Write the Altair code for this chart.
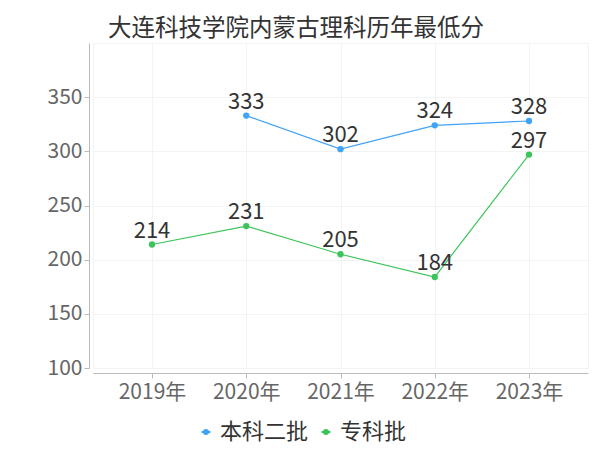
import altair as alt
import pandas as pd

years = ["2019年", "2020年", "2021年", "2022年", "2023年"]
series_names = ["本科二批", "专科批"]
benke = [None, 333, 302, 324, 328]
zhuanke = [214, 231, 205, 184, 297]
colors = ["#3fa3f7", "#3cc45a"]

rows = []
for name, vals in zip(series_names, [benke, zhuanke]):
    for y, v in zip(years, vals):
        if v is not None:
            rows.append({"year": y, "score": v, "series": name})
df = pd.DataFrame(rows)

FONT = "Noto Sans CJK SC"

x = alt.X("year:O", sort=years, title=None,
          scale=alt.Scale(padding=0.626),
          axis=alt.Axis(labelAngle=0, labelFontSize=21, labelColor="#666666",
                        labelFont=FONT, domainColor="#bbbbbb", tickColor="#bbbbbb",
                        tickSize=5, labelPadding=3, offset=5,
                        grid=True, gridColor="#f3f3f3"))
y = alt.Y("score:Q", title=None,
          scale=alt.Scale(domain=[100, 400], nice=False),
          axis=alt.Axis(values=[100, 150, 200, 250, 300, 350], labelFontSize=21,
                        labelColor="#666666", labelFont=FONT, domainColor="#bbbbbb",
                        tickColor="#bbbbbb", tickSize=5, labelPadding=2, offset=4,
                        grid=True, gridColor="#f3f3f3"))
color = alt.Color("series:N", sort=series_names,
                  scale=alt.Scale(domain=series_names, range=colors),
                  legend=alt.Legend(title=None, orient="none", legendX=102, legendY=378,
                                    direction="horizontal", labelFontSize=22,
                                    labelFont=FONT, labelColor="#333333",
                                    symbolType="M-1,0L1,0M-0.45,0A0.45,0.45 0 1,0 0.45,0A0.45,0.45 0 1,0 -0.45,0Z",
                                    symbolSize=80, symbolStrokeWidth=2,
                                    columnPadding=6, labelOffset=3))

base = alt.Chart(df).encode(x=x, y=y)
line = base.mark_line(strokeWidth=1.2).encode(color=color)
pts = base.mark_circle(size=40, opacity=1).encode(color=color)
labels = base.mark_text(dy=-14, fontSize=22, font=FONT, color="#333333").encode(
    text="score:Q")

chart = (line + pts + labels).properties(
    width=495, height=325,
    autosize=alt.AutoSizeParams(type="none"),
    padding={"left": 85, "top": 35, "right": 4, "bottom": 78},
    title=alt.TitleParams("大连科技学院内蒙古理科历年最低分", anchor="start",
                          frame="group", fontSize=23.5, font=FONT, fontWeight="normal",
                          color="#333333", offset=3, dx=15),
).configure_view(stroke="#f3f3f3")

chart.save("out.html", embed_options={"renderer": "svg", "actions": False})
